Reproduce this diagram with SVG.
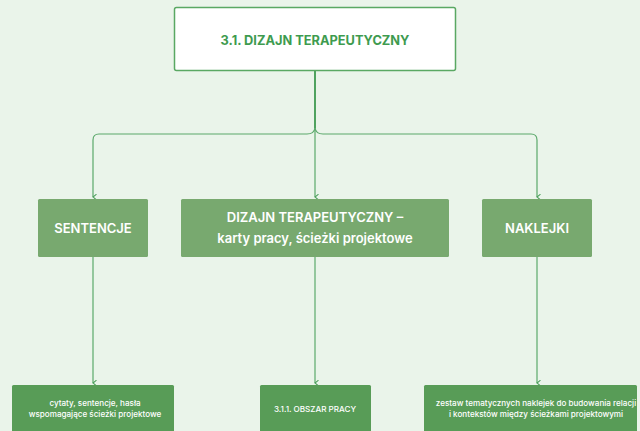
<svg xmlns="http://www.w3.org/2000/svg" width="640" height="431" viewBox="0 0 640 431">
<defs>
<style>
.bg{fill:#eaf4ea}
.top{fill:#ffffff;stroke:#5aa863;stroke-width:1.5}
.mid{fill:#78a96f}
.bot{fill:#589c57}
.c{fill:none;stroke:#5aa86a;stroke-width:1.2}
.t1{font-family:Inter,"Liberation Sans",sans-serif;font-weight:700;font-size:12.8px;fill:#3e9b4f;text-anchor:middle}
.t2{font-family:Inter,"Liberation Sans",sans-serif;font-weight:600;font-size:13px;fill:#ffffff;text-anchor:middle}
.t3{font-family:Inter,"Liberation Sans",sans-serif;font-weight:500;font-size:8.1px;fill:#ffffff;text-anchor:middle}
</style>
<marker id="ah" viewBox="0 0 10 10" refX="5" refY="9" markerWidth="7" markerHeight="7" markerUnits="userSpaceOnUse" orient="auto-start-reverse">
<path d="M1,4 L5,9 L9,4" fill="none" stroke="#4a9f5a" stroke-width="1.5"/>
</marker>
</defs>
<rect class="bg" x="0" y="0" width="640" height="431"/>
<g id="connectors">
<path d="M315,71 L315,128" fill="none" stroke="#3f9a50" stroke-width="1.8"/>
<path class="c" d="M315,128 Q314,134 307,134 L99,134 Q93,134 93,140 L93,197" marker-end="url(#ah)"/>
<path class="c" d="M315,128 Q316,134 323,134 L531,134 Q537,134 537,140 L537,197" marker-end="url(#ah)"/>
<path class="c" d="M315,128 L315,197" marker-end="url(#ah)"/>
<path class="c" d="M93,257 L93,383" marker-end="url(#ah)"/>
<path class="c" d="M315,257 L315,383" marker-end="url(#ah)"/>
<path class="c" d="M537,257 L537,383" marker-end="url(#ah)"/>
</g>
<g id="n-root">
<rect class="top" x="174.5" y="7.5" width="281" height="63" rx="2"/>
<text class="t1" x="315" y="45">3.1. DIZAJN TERAPEUTYCZNY</text>
</g>
<g id="n-sentencje">
<rect class="mid" x="38" y="199" width="110" height="58" rx="1.5"/>
<text class="t2" x="93" y="233">SENTENCJE</text>
</g>
<g id="n-dizajn">
<rect class="mid" x="181" y="199" width="268" height="58" rx="1.5"/>
<text class="t2" x="315" y="222">DIZAJN TERAPEUTYCZNY –</text>
<text class="t2" x="315" y="243">karty pracy, ścieżki projektowe</text>
</g>
<g id="n-naklejki">
<rect class="mid" x="482" y="199" width="110" height="58" rx="1.5"/>
<text class="t2" x="537" y="233">NAKLEJKI</text>
</g>
<g id="n-cytaty">
<rect class="bot" x="12" y="385" width="162" height="50" rx="1.5"/>
<text class="t3" x="95" y="406">cytaty, sentencje, hasła</text>
<text class="t3" x="95" y="417">wspomagające ścieżki projektowe</text>
</g>
<g id="n-obszar">
<rect class="bot" x="260" y="385" width="111" height="50" rx="1.5"/>
<text class="t3" x="315" y="412">3.1.1. OBSZAR PRACY</text>
</g>
<g id="n-zestaw">
<rect class="bot" x="424" y="385" width="213" height="50" rx="1.5"/>
<text class="t3" x="536" y="406">zestaw tematycznych naklejek do budowania relacji</text>
<text class="t3" x="536" y="417">i kontekstów między ścieżkami projektowymi</text>
</g>
</svg>
